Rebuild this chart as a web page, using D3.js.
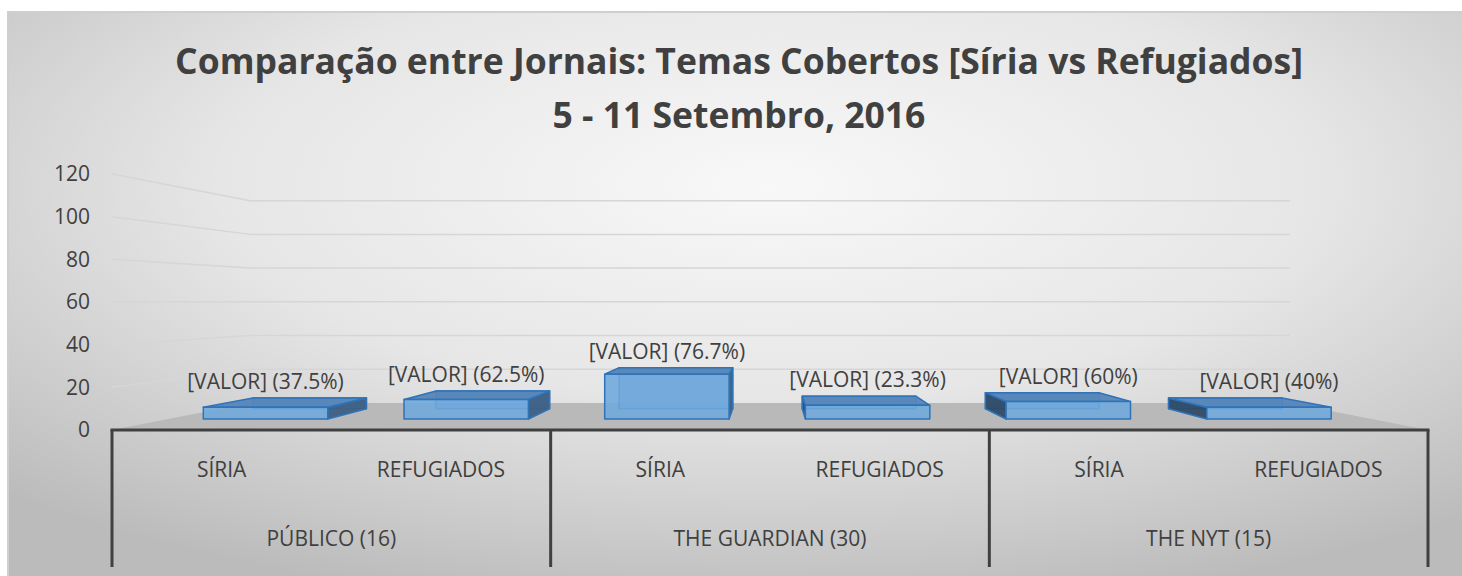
<!DOCTYPE html>
<html>
<head>
<meta charset="utf-8">
<script src="https://cdn.jsdelivr.net/npm/d3@7"></script>
<style>
  body { margin: 0; background: #fff; }
  text { font-family: "Open Sans", sans-serif; fill: #404040; }
</style>
</head>
<body>
<script>
var WIDTH = 1462,
    HEIGHT = 576;

// data
var groups = ["PÚBLICO (16)", "THE GUARDIAN (30)", "THE NYT (15)"];
var series = ["SÍRIA", "REFUGIADOS"];
var siria = [6, 23, 9];
var refugiados = [10, 7, 6];
var yTicks = [0, 20, 40, 60, 80, 100, 120];
var titleLines = ["Comparação entre Jornais: Temas Cobertos [Síria vs Refugiados]", "5 - 11 Setembro, 2016"];

var rows = [];
groups.forEach(function(g, i){
  var total = siria[i] + refugiados[i];
  rows.push({group: g, cat: series[0], value: siria[i], total: total});
  rows.push({group: g, cat: series[1], value: refugiados[i], total: total});
});

var svg = d3.select("body").append("svg")
    .attr("width", WIDTH)
    .attr("height", HEIGHT);

// background
var defs = svg.append("defs");
var grad = defs.append("radialGradient")
    .attr("id", "bg")
    .attr("cx", "52%").attr("cy", "30%").attr("r", "75%");
grad.append("stop").attr("offset", "0%").attr("stop-color", "#f8f8f8");
grad.append("stop").attr("offset", "50%").attr("stop-color", "#e6e6e6");
grad.append("stop").attr("offset", "100%").attr("stop-color", "#bbbbbb");

svg.append("rect")
    .attr("x", 8).attr("y", 12)
    .attr("width", WIDTH).attr("height", HEIGHT)
    .attr("fill", "url(#bg)")
    .attr("stroke", "#cfcfcf")
    .attr("stroke-width", 2);

// perspective
var vp = {x: 770, y: 301};
var sWall = 0.79, sFront = 0.915, sBack = 0.835;
var proj = function(x, y, s){
  return [vp.x + s*(x - vp.x), vp.y + s*(y - vp.y)];
};
var poly = function(pts){ return pts.map(function(p){ return p.join(","); }).join(" "); };

var y = d3.scaleLinear().domain([0, 120]).range([430, 174]);
var xGroup = d3.scaleBand().domain(groups).range([112, 1428]);
var xCat = d3.scaleBand().domain(series).range([0, xGroup.bandwidth()])
    .paddingInner(0.38).paddingOuter(0.19);

var left = xGroup.range()[0], right = xGroup.range()[1];

// floor
svg.append("polygon")
    .attr("points", poly([proj(left, y(0), 1), proj(right, y(0), 1), proj(right, y(0), sWall), proj(left, y(0), sWall)]))
    .attr("fill", "#b9b9b9");

// gridlines: back wall + left side wall
var grid = svg.append("g").attr("stroke", "#d6d6d6").attr("stroke-width", 1.5).attr("fill", "none");
yTicks.slice(1).forEach(function(t){
  var a = proj(left, y(t), sWall), b = proj(right, y(t), sWall), c = proj(left, y(t), 1);
  grid.append("line").attr("x1", a[0]).attr("y1", a[1]).attr("x2", b[0]).attr("y2", b[1]);
  grid.append("line").attr("x1", c[0]).attr("y1", c[1]).attr("x2", a[0]).attr("y2", a[1]);
});

// bars
var bars = svg.append("g");
rows.forEach(function(d){
  var x0 = xGroup(d.group) + xCat(d.cat) - 3,
      x1 = x0 + xCat.bandwidth(),
      yb = y(0), yt = y(d.value);
  var g = bars.append("g").attr("stroke", "#2f73b8").attr("stroke-width", 1.5).attr("stroke-linejoin", "round");
  g.append("polygon")
    .attr("points", poly([proj(x0, yb, sBack), proj(x1, yb, sBack), proj(x1, yt, sBack), proj(x0, yt, sBack)]))
    .attr("fill", "#5b9bd5").attr("fill-opacity", 0.6);
  var sx = null;
  if (x1 < vp.x) sx = x1;
  else if (x0 > vp.x) sx = x0;
  if (sx !== null) {
    g.append("polygon")
      .attr("points", poly([proj(sx, yb, sFront), proj(sx, yb, sBack), proj(sx, yt, sBack), proj(sx, yt, sFront)]))
      .attr("fill", sx === x0 ? "#2e4a68" : "#3d5f84").attr("fill-opacity", 0.95);
  }
  g.append("polygon")
    .attr("points", poly([proj(x0, yt, sFront), proj(x1, yt, sFront), proj(x1, yt, sBack), proj(x0, yt, sBack)]))
    .attr("fill", "#5585b8").attr("fill-opacity", 0.95);
  g.append("polygon")
    .attr("points", poly([proj(x0, yb, sFront), proj(x1, yb, sFront), proj(x1, yt, sFront), proj(x0, yt, sFront)]))
    .attr("fill", "#6fa8dc").attr("fill-opacity", 0.88);

  var xc = (x0 + x1) / 2;
  bars.append("text")
    .attr("x", proj(xc, yt, sFront)[0])
    .attr("y", proj(xc, yt, sBack)[1] - 9)
    .attr("text-anchor", "middle")
    .style("font-size", "21px")
    .text("[VALOR] (" + d3.format(".1~f")(d.value / d.total * 100) + "%)");
});

// category axis (table style)
var axis = svg.append("g").attr("stroke", "#404040").attr("stroke-width", 3);
axis.append("line").attr("x1", left - 1.5).attr("x2", right + 1.5).attr("y1", y(0)).attr("y2", y(0));
groups.map(function(g){ return xGroup(g); }).concat([right]).forEach(function(x){
  axis.append("line").attr("x1", x).attr("x2", x).attr("y1", y(0)).attr("y2", 567);
});

rows.forEach(function(d){
  svg.append("text")
    .attr("x", xGroup(d.group) + xCat(d.cat) + xCat.bandwidth() / 2)
    .attr("y", 477)
    .attr("text-anchor", "middle")
    .style("font-size", "21px")
    .text(d.cat);
});
groups.forEach(function(g){
  svg.append("text")
    .attr("x", xGroup(g) + xGroup.bandwidth() / 2)
    .attr("y", 546)
    .attr("text-anchor", "middle")
    .style("font-size", "21px")
    .text(g);
});

// value axis
var yAxis = svg.append("g")
    .attr("transform", "translate(100,0)")
    .call(d3.axisLeft(y).tickValues(yTicks).tickSize(0).tickPadding(10));
yAxis.select(".domain").remove();
yAxis.selectAll("text")
    .style("font-size", "21px")
    .style("font-family", "'Open Sans', sans-serif")
    .attr("fill", "#404040");

// title
titleLines.forEach(function(t, i){
  svg.append("text")
    .attr("x", 739)
    .attr("y", 74 + i * 54)
    .attr("text-anchor", "middle")
    .style("font-size", "35.5px")
    .style("font-weight", "bold")
    .text(t);
});
</script>
</body>
</html>
